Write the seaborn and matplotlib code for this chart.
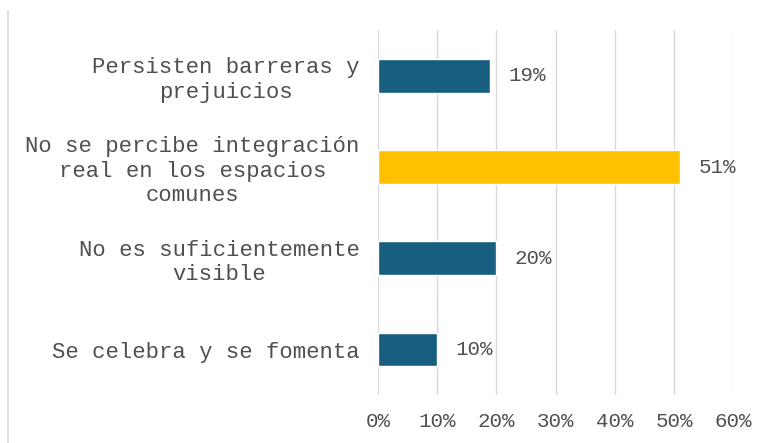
import matplotlib
matplotlib.use("Agg")
import matplotlib.pyplot as plt
import seaborn as sns
import pandas as pd
from matplotlib.lines import Line2D

categories = [
    "Persisten barreras y\nprejuicios",
    "No se percibe integración\nreal en los espacios\ncomunes",
    "No es suficientemente\nvisible",
    "Se celebra y se fomenta",
]
values = [19, 51, 20, 10]
colors = ["#175E80", "#FFC000", "#175E80", "#175E80"]
xticks = [0, 10, 20, 30, 40, 50, 60]

sns.set_theme(style="white")
plt.rcParams["font.family"] = ["Liberation Mono", "DejaVu Sans"]

df = pd.DataFrame({"cat": categories, "val": values})
fig = plt.figure(figsize=(7.71, 4.43), dpi=100)
ax = fig.add_axes([0.490, 0.108, 0.461, 0.824])
sns.barplot(data=df, y="cat", x="val", hue="cat", palette=colors, legend=False,
            width=0.37, ax=ax, saturation=1)
ax.set_xlim(0, 60)
ax.set_xticks(xticks)
ax.set_xticklabels([f"{t}%" for t in xticks], fontsize=15, color="#505050")
ax.set_yticklabels(categories, fontsize=16, color="#505050", ha="right",
                   multialignment="center", linespacing=1.22)
ax.tick_params(axis="y", pad=13, length=0)
ax.tick_params(axis="x", pad=12, length=0)
ax.set_xlabel("")
ax.set_ylabel("")
ax.grid(axis="x", color="#D9D9D9", linewidth=1)
ax.set_axisbelow(True)
for s in ax.spines.values():
    s.set_visible(False)
for p, v in zip(ax.patches, values):
    ax.text(v + 3.1, p.get_y() + p.get_height() / 2, f"{v}%", va="center",
            ha="left", fontsize=15, color="#505050")
fig.add_artist(Line2D([0.010, 0.010], [0.0, 0.975], color="#D9D9D9", linewidth=1.2,
                      transform=fig.transFigure))
fig.savefig("out.png", dpi=100)
